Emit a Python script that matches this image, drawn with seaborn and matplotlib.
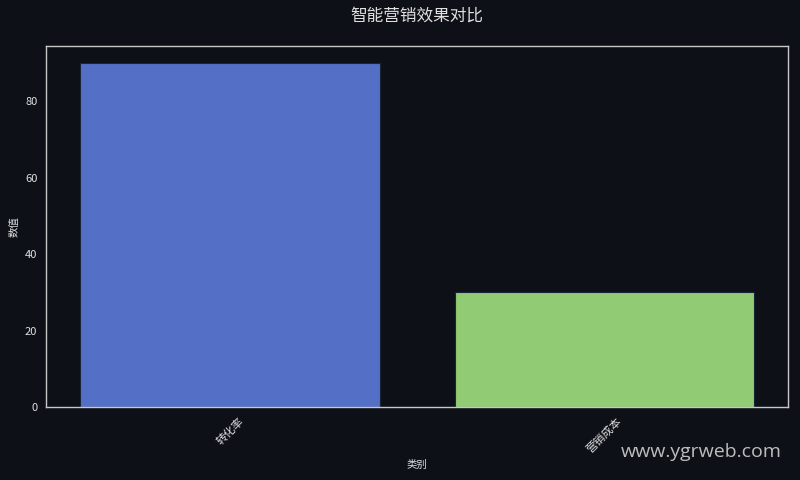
import matplotlib
matplotlib.use("Agg")
import matplotlib.pyplot as plt
import seaborn as sns
import pandas as pd

categories = ["转化率", "营销成本"]
values = [90, 30]
bar_colors = ["#5470c6", "#91cc75"]

bg = "#0d1017"
fg = "#e0e0e0"

sns.set_theme(style="dark")
plt.rcParams["font.family"] = ["Noto Sans CJK SC", "DejaVu Sans"]

df = pd.DataFrame({"类别": categories, "数值": values})

fig, ax = plt.subplots(figsize=(8, 4.8), dpi=100)
fig.patch.set_facecolor(bg)
ax.set_facecolor(bg)

sns.barplot(data=df, x="类别", y="数值", hue="类别", palette=bar_colors,
            legend=False, ax=ax, width=0.8, saturation=1,
            edgecolor="#1c2438", linewidth=0.8)

ax.set_xlim(-0.49, 1.49)
ax.set_ylim(0, 94.5)
ax.set_title("智能营销效果对比", color=fg, fontsize=12, pad=18)
ax.set_xlabel("类别", color=fg, fontsize=7.5)
ax.set_ylabel("数值", color=fg, fontsize=7.5)
ax.tick_params(axis="both", colors=fg, labelsize=8, length=3, width=0.8)
plt.setp(ax.get_xticklabels(), rotation=45)
for s in ax.spines.values():
    s.set_visible(True)
    s.set_color("#c8c8c8")
    s.set_linewidth(1)
ax.grid(False)

fig.text(0.977, 0.04, "www.ygrweb.com", color="#d0d0d0", fontsize=14,
         ha="right", va="bottom", family=["Open Sans", "DejaVu Sans"], alpha=0.9)

plt.subplots_adjust(left=0.058, right=0.985, top=0.905, bottom=0.152)
plt.savefig("out.png", facecolor=bg)
